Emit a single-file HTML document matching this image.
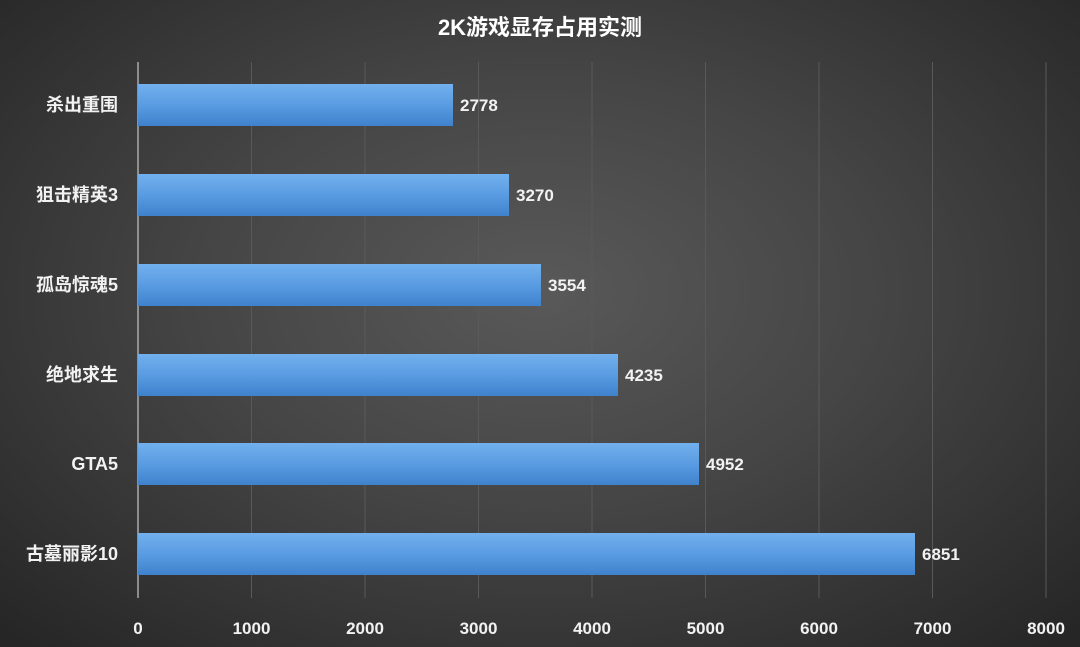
<!DOCTYPE html>
<html><head><meta charset="utf-8"><style>
body{margin:0;width:1080px;height:647px;overflow:hidden;background:radial-gradient(ellipse 70% 75% at 50% 45%,#595959 0%,#454545 45%,#262626 100%);font-family:"Liberation Sans","Noto Sans CJK SC",sans-serif;}
</style></head><body>
<svg width="1080" height="647" xmlns="http://www.w3.org/2000/svg" style="position:absolute;left:0;top:0">
<defs><linearGradient id="g" x1="0" y1="0" x2="0" y2="1"><stop offset="0" stop-color="#72b0ee"/><stop offset="0.5" stop-color="#5a9ce2"/><stop offset="1" stop-color="#3f82cc"/></linearGradient></defs>
<text x="540" y="35" fill="#fff" font-size="22" font-weight="bold" text-anchor="middle">2K游戏显存占用实测</text>
<g stroke="#595959" stroke-width="1">
<line x1="251.5" y1="62" x2="251.5" y2="598"/><line x1="365" y1="62" x2="365" y2="598"/><line x1="478.5" y1="62" x2="478.5" y2="598"/><line x1="592" y1="62" x2="592" y2="598"/><line x1="705.5" y1="62" x2="705.5" y2="598"/><line x1="819" y1="62" x2="819" y2="598"/><line x1="932.5" y1="62" x2="932.5" y2="598"/><line x1="1046" y1="62" x2="1046" y2="598"/>
</g>
<line x1="138" y1="62" x2="138" y2="598" stroke="#aaa" stroke-width="1.5"/>
<g fill="url(#g)">
<rect x="138" y="84" width="315" height="42"/><rect x="138" y="174" width="371" height="42"/><rect x="138" y="264" width="403" height="42"/><rect x="138" y="354" width="480" height="42"/><rect x="138" y="443" width="561" height="42"/><rect x="138" y="533" width="777" height="42"/>
</g>
<g fill="#f2f2f2" font-size="17" font-weight="600">
<text x="460" y="111">2778</text><text x="516" y="201">3270</text><text x="548" y="291">3554</text><text x="625" y="381">4235</text><text x="706" y="470">4952</text><text x="922" y="560">6851</text>
</g>
<g fill="#f2f2f2" font-size="18" font-weight="600" text-anchor="end">
<text x="118" y="111">杀出重围</text><text x="118" y="201">狙击精英3</text><text x="118" y="291">孤岛惊魂5</text><text x="118" y="381">绝地求生</text><text x="118" y="470">GTA5</text><text x="118" y="560">古墓丽影10</text>
</g>
<g fill="#f2f2f2" font-size="17" font-weight="600" text-anchor="middle">
<text x="138" y="634">0</text><text x="251.5" y="634">1000</text><text x="365" y="634">2000</text><text x="478.5" y="634">3000</text><text x="592" y="634">4000</text><text x="705.5" y="634">5000</text><text x="819" y="634">6000</text><text x="932.5" y="634">7000</text><text x="1046" y="634">8000</text>
</g>
</svg>
</body></html>
